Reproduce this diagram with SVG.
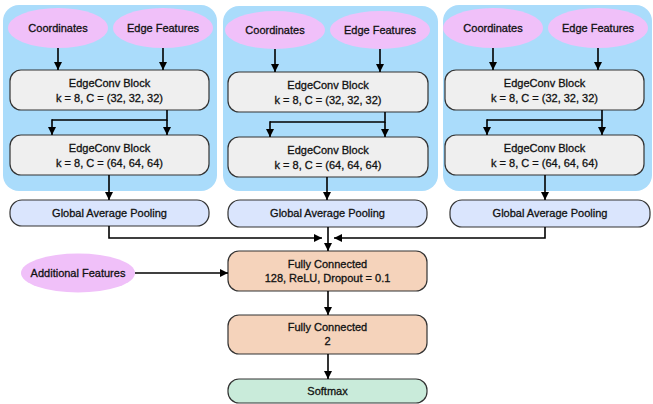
<svg xmlns="http://www.w3.org/2000/svg" width="653" height="404" viewBox="0 0 653 404">
  <defs>
    <marker id="arrow" viewBox="0 0 10 10" refX="10" refY="5" markerWidth="8" markerHeight="8" markerUnits="userSpaceOnUse" orient="auto">
      <path d="M0,0 L10,5 L0,10 Z" fill="#000"/>
    </marker>
  </defs>
  <style>
    .panel { fill: #aadcfb; }
    .input { fill: #f0c0f9; }
    .block { fill: #efefef; stroke: #333; stroke-width: 1.2; }
    .gap { fill: #dae5fd; stroke: #333; stroke-width: 1.2; }
    .fc { fill: #f5d3bb; stroke: #333; stroke-width: 1.2; }
    .soft { fill: #c9ebda; stroke: #333; stroke-width: 1.2; }
    text { font-family: "Liberation Sans", Arial, sans-serif; font-size: 11px; fill: #111; stroke: #111; stroke-width: 0.3; text-anchor: middle; }
    .edge { fill: none; stroke: #000; stroke-width: 1.6; }
    .arr { marker-end: url(#arrow); }
  </style>

  <!-- branch 1 -->
  <g id="branch1">
    <rect class="panel" x="3" y="5" width="214" height="186" rx="16"/>
    <g id="coords1"><ellipse class="input" cx="58" cy="28" rx="50" ry="20"/><text x="58" y="32">Coordinates</text></g>
    <g id="edgefeat1"><ellipse class="input" cx="163" cy="28" rx="50" ry="20"/><text x="163" y="32">Edge Features</text></g>
    <g id="edgeconv1a"><rect class="block" x="10" y="70" width="199" height="40" rx="11"/><text x="109.5" y="87">EdgeConv Block</text><text x="109.5" y="102">k = 8, C = (32, 32, 32)</text></g>
    <g id="edgeconv1b"><rect class="block" x="10" y="135" width="199" height="40" rx="11"/><text x="109.5" y="152">EdgeConv Block</text><text x="109.5" y="167">k = 8, C = (64, 64, 64)</text></g>
  </g>
  <g id="pool1"><rect class="gap" x="10" y="200" width="199" height="26" rx="12"/><text x="109.5" y="217">Global Average Pooling</text></g>

  <!-- branch 2 -->
  <g id="branch2">
    <rect class="panel" x="223" y="6" width="215" height="185" rx="16"/>
    <g id="coords2"><ellipse class="input" cx="275" cy="30" rx="50" ry="19"/><text x="275" y="34">Coordinates</text></g>
    <g id="edgefeat2"><ellipse class="input" cx="380" cy="30" rx="50" ry="19"/><text x="380" y="34">Edge Features</text></g>
    <g id="edgeconv2a"><rect class="block" x="228" y="72" width="200" height="40" rx="11"/><text x="328" y="89">EdgeConv Block</text><text x="328" y="104">k = 8, C = (32, 32, 32)</text></g>
    <g id="edgeconv2b"><rect class="block" x="228" y="137" width="200" height="40" rx="11"/><text x="328" y="154">EdgeConv Block</text><text x="328" y="169">k = 8, C = (64, 64, 64)</text></g>
  </g>
  <g id="pool2"><rect class="gap" x="228" y="200" width="199" height="27" rx="12"/><text x="327.5" y="217">Global Average Pooling</text></g>

  <!-- branch 3 -->
  <g id="branch3">
    <rect class="panel" x="443" y="5" width="209" height="186" rx="16"/>
    <g id="coords3"><ellipse class="input" cx="493" cy="28" rx="50" ry="20"/><text x="493" y="32">Coordinates</text></g>
    <g id="edgefeat3"><ellipse class="input" cx="598" cy="28" rx="50" ry="20"/><text x="598" y="32">Edge Features</text></g>
    <g id="edgeconv3a"><rect class="block" x="445" y="70" width="199" height="40" rx="11"/><text x="544.5" y="87">EdgeConv Block</text><text x="544.5" y="102">k = 8, C = (32, 32, 32)</text></g>
    <g id="edgeconv3b"><rect class="block" x="445" y="135" width="199" height="40" rx="11"/><text x="544.5" y="152">EdgeConv Block</text><text x="544.5" y="167">k = 8, C = (64, 64, 64)</text></g>
  </g>
  <g id="pool3"><rect class="gap" x="450" y="200" width="200" height="27" rx="12"/><text x="550" y="217">Global Average Pooling</text></g>

  <!-- head -->
  <g id="additional"><ellipse class="input" cx="78" cy="273" rx="57" ry="19.5"/><text x="78" y="277">Additional Features</text></g>
  <g id="fc1"><rect class="fc" x="228" y="251" width="199" height="40" rx="11"/><text x="327.5" y="268">Fully Connected</text><text x="327.5" y="282">128, ReLU, Dropout = 0.1</text></g>
  <g id="fc2"><rect class="fc" x="228" y="315" width="199" height="39" rx="11"/><text x="327.5" y="331">Fully Connected</text><text x="327.5" y="345">2</text></g>
  <g id="softmax"><rect class="soft" x="228" y="379" width="199" height="24" rx="11"/><text x="327.5" y="395">Softmax</text></g>

  <g id="connectors">
    <!-- branch 1 -->
    <path class="edge arr" d="M58,48 V70"/>
    <path class="edge arr" d="M163,48 V70"/>
    <path class="edge" d="M167,110 V120 H52"/>
    <path class="edge arr" d="M52,119.2 V135"/>
    <path class="edge arr" d="M167,120 V135"/>
    <path class="edge arr" d="M109,175 V200"/>
    <path class="edge arr" d="M109,226 V238 H322"/>
    <!-- branch 2 -->
    <path class="edge arr" d="M275,49 V72"/>
    <path class="edge arr" d="M380,49 V72"/>
    <path class="edge" d="M385,112 V122 H270"/>
    <path class="edge arr" d="M270,121.2 V137"/>
    <path class="edge arr" d="M385,122 V137"/>
    <path class="edge arr" d="M327,177 V200"/>
    <path class="edge arr" d="M328,227 V251"/>
    <!-- branch 3 -->
    <path class="edge arr" d="M493,48 V70"/>
    <path class="edge arr" d="M598,48 V70"/>
    <path class="edge" d="M602,110 V120 H487"/>
    <path class="edge arr" d="M487,119.2 V135"/>
    <path class="edge arr" d="M602,120 V135"/>
    <path class="edge arr" d="M545,175 V200"/>
    <path class="edge arr" d="M545,227 V238 H334"/>
    <!-- head -->
    <path class="edge arr" d="M135,273 H228"/>
    <path class="edge arr" d="M328,291 V315"/>
    <path class="edge arr" d="M328,354 V379"/>
  </g>
</svg>
